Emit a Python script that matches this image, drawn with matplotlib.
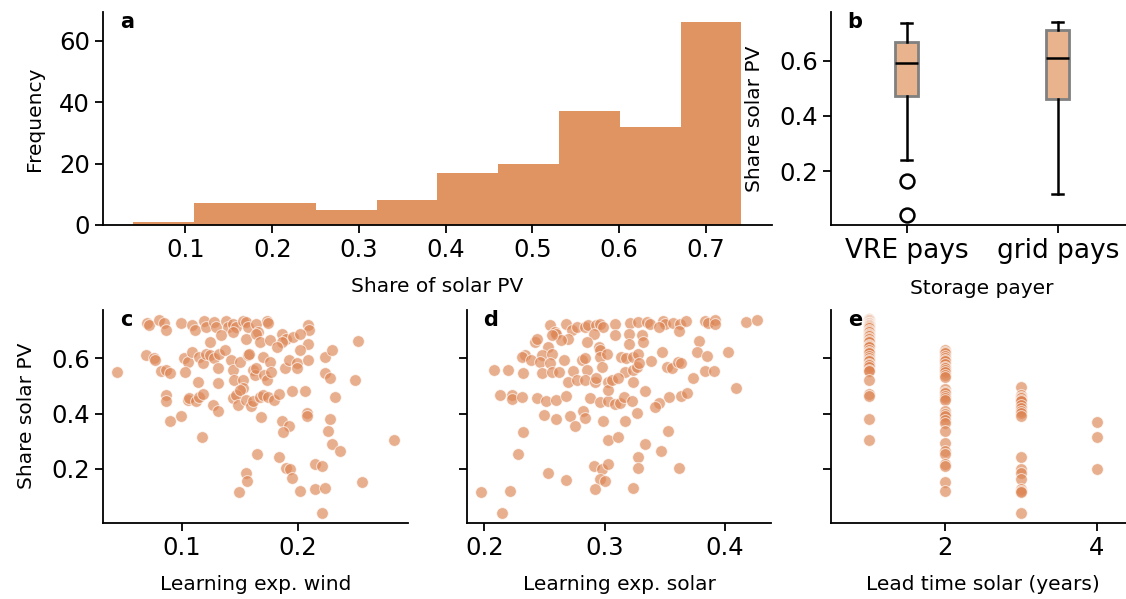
import matplotlib
matplotlib.use('Agg')
import matplotlib.pyplot as plt
import numpy as np

# ---- data ----
# a: histogram of solar PV share (200 runs)
hist_counts = [1, 7, 7, 5, 8, 17, 20, 37, 32, 66]
hist_lo, hist_hi = 0.040, 0.741

# b: storage payer box stats
payer_labels = ['VRE pays', 'grid pays']
box_whislo = [0.242, 0.116]
box_q1 = [0.471, 0.462]
box_med = [0.591, 0.610]
box_q3 = [0.669, 0.709]
box_whishi = [0.735, 0.739]
box_fliers = [[0.164, 0.041], []]

# c: learning exponent wind vs share solar
wind_lr = [0.070, 0.072, 0.080, 0.085, 0.086, 0.099, 0.109, 0.111, 0.119, 0.121, 0.128, 0.129, 0.138, 0.140,
           0.144, 0.147, 0.153, 0.155, 0.157, 0.164, 0.166, 0.173, 0.174, 0.209, 0.210, 0.144, 0.134, 0.124,
           0.155, 0.164, 0.167, 0.176, 0.186, 0.190, 0.196, 0.202, 0.209, 0.186, 0.182, 0.202,
           0.069, 0.076, 0.077, 0.102, 0.105, 0.109, 0.115, 0.118, 0.121, 0.124, 0.128, 0.131, 0.132, 0.137,
           0.142, 0.144, 0.145, 0.150, 0.153, 0.157, 0.158, 0.161, 0.163, 0.164, 0.170, 0.171, 0.173, 0.176,
           0.177, 0.189, 0.192, 0.199, 0.199, 0.209, 0.223, 0.229, 0.223, 0.228, 0.249, 0.252,
           0.082, 0.086, 0.090, 0.103, 0.114, 0.131, 0.153, 0.044,
           0.086, 0.086, 0.105, 0.106, 0.112, 0.115, 0.118, 0.127, 0.131, 0.144, 0.147, 0.148, 0.150, 0.155,
           0.160, 0.161, 0.167, 0.170, 0.174, 0.179, 0.184, 0.195, 0.206, 0.208, 0.208, 0.232, 0.168, 0.099, 0.090,
           0.186, 0.192, 0.187, 0.228, 0.226, 0.229, 0.236, 0.117, 0.165, 0.184, 0.190, 0.193, 0.195, 0.215,
           0.221, 0.155, 0.156, 0.149, 0.202, 0.215, 0.223, 0.255, 0.221, 0.283]
wind_share = [0.729, 0.720, 0.738, 0.729, 0.704, 0.729, 0.720, 0.704, 0.736, 0.714, 0.732, 0.714, 0.736, 0.716,
              0.726, 0.714, 0.736, 0.732, 0.716, 0.726, 0.696, 0.736, 0.729, 0.720, 0.704, 0.696, 0.684, 0.660,
              0.672, 0.690, 0.660, 0.666, 0.690, 0.672, 0.678, 0.690, 0.654, 0.660, 0.642, 0.630,
              0.612, 0.600, 0.594, 0.600, 0.588, 0.624, 0.606, 0.582, 0.618, 0.612, 0.600, 0.564, 0.618, 0.630,
              0.594, 0.558, 0.522, 0.588, 0.522, 0.612, 0.618, 0.558, 0.540, 0.564, 0.606, 0.540, 0.522, 0.588,
              0.552, 0.564, 0.594, 0.582, 0.564, 0.594, 0.606, 0.630, 0.546, 0.528, 0.522, 0.664,
              0.556, 0.558, 0.548, 0.552, 0.516, 0.510, 0.492, 0.552,
              0.468, 0.444, 0.450, 0.456, 0.444, 0.462, 0.471, 0.432, 0.411, 0.456, 0.468, 0.432, 0.486, 0.450,
              0.426, 0.444, 0.462, 0.468, 0.462, 0.450, 0.471, 0.483, 0.483, 0.402, 0.390, 0.462, 0.387, 0.392, 0.372,
              0.375, 0.354, 0.332, 0.380, 0.336, 0.290, 0.266, 0.315, 0.252, 0.242, 0.204, 0.200, 0.165, 0.216,
              0.210, 0.186, 0.156, 0.114, 0.120, 0.126, 0.129, 0.152, 0.041, 0.306]

# d: learning exponent solar vs share solar
solar_lr = [0.255, 0.259, 0.260, 0.268, 0.273, 0.277, 0.284, 0.286, 0.293, 0.296, 0.299, 0.291, 0.285, 0.295,
            0.296, 0.270, 0.264, 0.253, 0.256, 0.242, 0.244, 0.234, 0.231, 0.239, 0.248, 0.246, 0.256, 0.255,
            0.266, 0.281, 0.284, 0.296, 0.302,
            0.208, 0.220, 0.232, 0.248, 0.256, 0.262, 0.274, 0.285, 0.298, 0.270, 0.277, 0.284, 0.292, 0.293, 0.303,
            0.213, 0.223, 0.223, 0.231, 0.244, 0.251, 0.260, 0.268, 0.288, 0.296, 0.303, 0.303,
            0.250, 0.260, 0.271, 0.275, 0.282, 0.284, 0.299, 0.303, 0.232, 0.228, 0.253, 0.268, 0.291, 0.298,
            0.303, 0.296, 0.300, 0.292, 0.197, 0.221, 0.215,
            0.309, 0.321, 0.328, 0.335, 0.338, 0.349, 0.350, 0.357, 0.363, 0.368, 0.384, 0.386, 0.392, 0.392,
            0.418, 0.427, 0.345, 0.362,
            0.309, 0.320, 0.320, 0.331, 0.332, 0.379, 0.377, 0.385, 0.403, 0.348, 0.339, 0.314, 0.318, 0.324, 0.328,
            0.317, 0.324, 0.327, 0.329, 0.352, 0.356, 0.361, 0.364, 0.374, 0.384, 0.391, 0.409,
            0.306, 0.311, 0.324, 0.334, 0.354, 0.364, 0.369, 0.345, 0.342, 0.309, 0.313, 0.316, 0.323, 0.327,
            0.317, 0.353, 0.311, 0.334, 0.347, 0.328, 0.328, 0.362, 0.324]
solar_share = [0.720, 0.696, 0.690, 0.726, 0.702, 0.714, 0.714, 0.720, 0.720, 0.726, 0.714, 0.690, 0.660, 0.642,
               0.630, 0.672, 0.666, 0.642, 0.684, 0.660, 0.672, 0.612, 0.606, 0.594, 0.612, 0.588, 0.618, 0.582,
               0.594, 0.594, 0.600, 0.606, 0.618,
               0.560, 0.560, 0.548, 0.548, 0.552, 0.552, 0.556, 0.558, 0.570, 0.516, 0.522, 0.522, 0.516, 0.528, 0.516,
               0.468, 0.468, 0.452, 0.459, 0.458, 0.444, 0.450, 0.464, 0.456, 0.441, 0.444, 0.486,
               0.396, 0.381, 0.390, 0.354, 0.408, 0.384, 0.372, 0.306, 0.332, 0.252, 0.186, 0.158, 0.210, 0.200,
               0.216, 0.162, 0.156, 0.128, 0.116, 0.120, 0.041,
               0.724, 0.729, 0.732, 0.732, 0.726, 0.736, 0.726, 0.729, 0.726, 0.736, 0.736, 0.729, 0.741, 0.724,
               0.732, 0.738, 0.714, 0.700,
               0.684, 0.690, 0.654, 0.684, 0.660, 0.664, 0.624, 0.608, 0.622, 0.624, 0.592, 0.606, 0.600, 0.606, 0.618,
               0.552, 0.558, 0.570, 0.582, 0.570, 0.564, 0.588, 0.584, 0.530, 0.554, 0.554, 0.494,
               0.522, 0.528, 0.516, 0.483, 0.462, 0.464, 0.474, 0.440, 0.423, 0.435, 0.438, 0.462, 0.444, 0.402,
               0.375, 0.336, 0.315, 0.291, 0.266, 0.242, 0.204, 0.201, 0.129]

# e: share solar per lead time (years)
lead1_share = [0.742, 0.740, 0.738, 0.735, 0.733, 0.730, 0.730, 0.728, 0.725, 0.722, 0.720, 0.718, 0.715, 0.710,
               0.705, 0.700, 0.695, 0.690, 0.685, 0.680, 0.675, 0.670, 0.665, 0.660, 0.650, 0.645, 0.640, 0.630,
               0.625, 0.620, 0.610, 0.600, 0.595, 0.590, 0.580, 0.575, 0.570, 0.560, 0.555, 0.522, 0.470, 0.465,
               0.380, 0.306]
lead2_share = [0.630, 0.625, 0.620, 0.610, 0.600, 0.595, 0.590, 0.580, 0.570, 0.565, 0.560, 0.550, 0.540, 0.534,
               0.490, 0.480, 0.474, 0.465, 0.456, 0.450, 0.408, 0.398, 0.390, 0.378, 0.366, 0.336, 0.294, 0.264,
               0.252, 0.216, 0.210, 0.152, 0.120]
lead3_share = [0.495, 0.468, 0.462, 0.456, 0.450, 0.444, 0.432, 0.420, 0.410, 0.402, 0.390, 0.243, 0.200, 0.186,
               0.162, 0.128, 0.120, 0.114, 0.041]
lead4_share = [0.371, 0.315, 0.200]

# ---- style ----
orange = '#DD8452'
hist_color = '#DF9462'
box_face = '#E8B38D'
tick_fs = 17.5
label_fs = 14.5
plt.rcParams['font.family'] = 'DejaVu Sans'
plt.rcParams['axes.linewidth'] = 1.3
plt.rcParams['axes.labelpad'] = 11
for ax_name in ['xtick', 'ytick']:
    plt.rcParams[ax_name + '.major.width'] = 1.3
    plt.rcParams[ax_name + '.major.size'] = 6
    plt.rcParams[ax_name + '.labelsize'] = tick_fs

fig = plt.figure(figsize=(11.26, 5.99), dpi=100)
ax_a = fig.add_axes([0.0915, 0.6244, 0.594, 0.3556])
ax_b = fig.add_axes([0.738, 0.6244, 0.2685, 0.3556])
ax_c = fig.add_axes([0.0915, 0.1277, 0.2709, 0.3548])
ax_d = fig.add_axes([0.4147, 0.1277, 0.2700, 0.3548], sharey=ax_c)
ax_e = fig.add_axes([0.738, 0.1277, 0.2700, 0.3548], sharey=ax_c)

for ax in [ax_a, ax_b, ax_c, ax_d, ax_e]:
    ax.spines['top'].set_visible(False)
    ax.spines['right'].set_visible(False)

# a
edges = np.linspace(hist_lo, hist_hi, len(hist_counts) + 1)
ax_a.bar(edges[:-1], hist_counts, width=np.diff(edges), align='edge', color=hist_color, linewidth=0)
ax_a.set_xlabel('Share of solar PV', fontsize=label_fs)
ax_a.set_ylabel('Frequency', fontsize=label_fs)
ax_a.set_xticks([0.1, 0.2, 0.3, 0.4, 0.5, 0.6, 0.7])

# b
stats = []
for i in range(len(payer_labels)):
    stats.append(dict(label=payer_labels[i], whislo=box_whislo[i], q1=box_q1[i], med=box_med[i],
                      q3=box_q3[i], whishi=box_whishi[i], fliers=box_fliers[i]))
ax_b.bxp(stats, patch_artist=True, widths=0.15,
         boxprops=dict(facecolor=box_face, edgecolor='#808080', linewidth=2),
         medianprops=dict(color='black', linewidth=1.8),
         whiskerprops=dict(color='black', linewidth=1.8),
         capprops=dict(color='black', linewidth=1.8),
         flierprops=dict(marker='o', markerfacecolor='none', markeredgecolor='black',
                         markersize=10, markeredgewidth=1.8))
ax_b.set_xlim(0.5, 2.5)
ax_b.set_ylim(0.005, 0.776)
ax_b.set_yticks([0.2, 0.4, 0.6])
ax_b.tick_params(axis='x', labelsize=19)
ax_b.set_xlabel('Storage payer', fontsize=label_fs)
ax_b.set_ylabel('Share solar PV', fontsize=label_fs)

# c, d, e
sc_kw = dict(s=72, color=orange, alpha=0.65, edgecolor='white', linewidth=0.75)
ax_c.scatter(wind_lr, wind_share, **sc_kw)
ax_c.set_xlabel('Learning exp. wind', fontsize=label_fs)
ax_c.set_ylabel('Share solar PV', fontsize=label_fs)
ax_c.set_xticks([0.1, 0.2])

ax_d.scatter(solar_lr, solar_share, **sc_kw)
ax_d.set_xlabel('Learning exp. solar', fontsize=label_fs)
ax_d.set_xticks([0.2, 0.3, 0.4])

lead_time = [1] * len(lead1_share) + [2] * len(lead2_share) + [3] * len(lead3_share) + [4] * len(lead4_share)
lead_share = lead1_share + lead2_share + lead3_share + lead4_share
ax_e.scatter(lead_time, lead_share, **sc_kw)
ax_e.set_xlabel('Lead time solar (years)', fontsize=label_fs)
ax_e.set_xlim(0.5, 4.5)
ax_e.set_xticks([2, 4])

ax_c.set_ylim(0.005, 0.776)
ax_c.set_yticks([0.2, 0.4, 0.6])
ax_d.tick_params(labelleft=False)
ax_e.tick_params(labelleft=False)

for ax, letter in zip([ax_a, ax_b, ax_c, ax_d, ax_e], 'abcde'):
    ax.annotate(letter, xy=(0, 1), xycoords='axes fraction', xytext=(12, 0),
                textcoords='offset points', ha='left', va='top', fontsize=15, fontweight='bold')

fig.savefig('out.png', dpi=100)
